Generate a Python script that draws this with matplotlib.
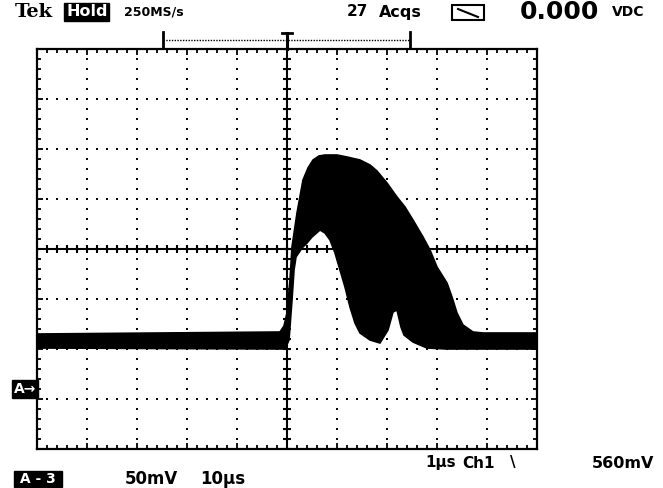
import numpy as np
import matplotlib.pyplot as plt
from matplotlib.patches import Rectangle

# Enveloppe de la trace Ch1, en divisions (x: 0..10, y: -4..4, centre = 5, 0)
upper_x = [0.00, 4.86, 4.94, 5.00, 5.06, 5.10, 5.20, 5.32, 5.42, 5.52, 5.64, 5.76,
           6.00, 6.20, 6.46, 6.66, 6.80, 7.00, 7.20, 7.36, 7.52, 7.72, 7.86, 8.00,
           8.20, 8.30, 8.40, 8.52, 8.72, 8.92, 10.00]
upper_y = [-1.70, -1.66, -1.54, -1.28, -0.62, 0.04, 0.72, 1.38, 1.62, 1.78, 1.86, 1.88,
           1.88, 1.84, 1.78, 1.68, 1.56, 1.32, 1.04, 0.84, 0.58, 0.24, -0.02, -0.36,
           -0.68, -0.96, -1.28, -1.52, -1.66, -1.68, -1.68]

lower_x = [0.00, 4.96, 5.04, 5.10, 5.14, 5.18, 5.30, 5.40, 5.50, 5.66, 5.76,
           5.86, 5.96, 6.06, 6.16, 6.26, 6.36, 6.46, 6.66, 6.86, 7.02, 7.12,
           7.20, 7.28, 7.34, 7.52, 7.80, 8.20, 10.00]
lower_y = [-1.98, -2.00, -1.82, -1.02, -0.42, -0.16, 0.02, 0.12, 0.24, 0.38, 0.32,
           0.18, -0.08, -0.42, -0.76, -1.16, -1.48, -1.68, -1.82, -1.88, -1.62, -1.26,
           -1.22, -1.56, -1.72, -1.86, -1.98, -2.00, -2.00]

fig = plt.figure(figsize=(6.63, 4.88), dpi=100)
ax = fig.add_axes([37 / 663, 39 / 488, 500 / 663, 400 / 488])
ax.set_xlim(0, 10)
ax.set_ylim(-4, 4)

# grille pointillée (points tous les 0.2 div)
for gx in [1, 2, 3, 4, 6, 7, 8, 9]:
    ys = np.arange(-4, 4.01, 0.2)
    ax.plot(np.full(len(ys), gx), ys, 's', color='black', ms=1.6, mew=0)
for gy in [-3, -2, -1, 1, 2, 3]:
    xs = np.arange(0, 10.01, 0.2)
    ax.plot(xs, np.full(len(xs), gy), 's', color='black', ms=1.6, mew=0)

# axes centraux avec graduations
ax.axvline(5, color='black', lw=1.5)
ax.axhline(0, color='black', lw=1.5)
ys = np.arange(-4, 4.01, 0.2)
ax.plot(np.full(len(ys), 5), ys, '_', color='black', ms=6, mew=1.5)
xs = np.arange(0, 10.01, 0.2)
ax.plot(xs, np.zeros(len(xs)), '|', color='black', ms=6, mew=1.5)

# trace
ax.fill(np.r_[upper_x, lower_x[::-1]], np.r_[upper_y, lower_y[::-1]],
        color='black', lw=1.2, ec='black')

# cadre
for s in ax.spines.values():
    s.set_linewidth(1.6)
ax.set_xticks(np.arange(0, 11, 1))
ax.set_yticks(np.arange(-4, 5, 1))
ax.set_xticks(np.arange(0, 10.01, 0.2), minor=True)
ax.set_yticks(np.arange(-4, 4.01, 0.2), minor=True)
ax.tick_params(which='both', direction='in', top=True, right=True,
               labelbottom=False, labelleft=False, width=1.3)
ax.tick_params(which='major', length=4)
ax.tick_params(which='minor', length=3)

# crochets de la fenêtre au-dessus
ax.plot([2.52, 7.46], [4.18, 4.18], ls=(0, (1, 1)), color='black', lw=1, clip_on=False)
for bx in [2.52, 7.46]:
    ax.plot([bx, bx], [4.02, 4.34], color='black', lw=2, clip_on=False)
ax.plot([5.0, 5.0], [4.0, 4.32], color='black', lw=2.2, clip_on=False)
ax.plot([4.9, 5.1], [4.32, 4.32], color='black', lw=2, clip_on=False)

# repère de masse
fig.text(14 / 663, 1 - 389 / 488, 'A\u2192', color='white', fontsize=10,
         fontweight='bold', va='center', ha='left',
         bbox=dict(boxstyle='square,pad=0.12', fc='black', ec='black'))

# textes du haut
fnt = dict(fontweight='bold', va='center', ha='left', color='black')
y_top = 1 - 12 / 488
fig.text(15 / 663, y_top, 'Tek', family='DejaVu Serif', fontsize=14, **fnt)
fig.text(66 / 663, y_top, 'Hold', fontsize=11.5, color='white', fontweight='bold',
         va='center', ha='left',
         bbox=dict(boxstyle='square,pad=0.1', fc='black', ec='black'))
fig.text(124 / 663, y_top, '250MS/s', fontsize=9, **fnt)
fig.text(347 / 663, y_top, '27', fontsize=11, **fnt)
fig.text(379 / 663, y_top, 'Acqs', fontsize=11.5, **fnt)
fig.patches.append(Rectangle((452 / 663, 1 - 20 / 488), 32 / 663, 15 / 488,
                             transform=fig.transFigure, fill=False, ec='black', lw=1.5))
fig.lines.append(plt.Line2D([458 / 663, 478 / 663], [1 - 9 / 488, 1 - 17 / 488],
                            transform=fig.transFigure, color='black', lw=1.5))
fig.text(520 / 663, y_top, '0.000', fontsize=18, **fnt)
fig.text(612 / 663, y_top, 'VDC', fontsize=10, **fnt)

# textes du bas
y_b1 = 1 - 463 / 488
fig.text(425 / 663, y_b1, '1\u00b5s', fontsize=11, **fnt)
fig.text(462 / 663, y_b1, 'Ch1', fontsize=11, **fnt)
fig.text(510 / 663, y_b1, '\\', fontsize=11, **fnt)
fig.text(592 / 663, y_b1, '560mV', fontsize=11.5, **fnt)
y_b2 = 1 - 479 / 488
fig.text(15 / 663, y_b2, ' A - 3 ', fontsize=10, color='white', fontweight='bold',
         va='center', ha='left',
         bbox=dict(boxstyle='square,pad=0.1', fc='black', ec='black'))
fig.text(125 / 663, y_b2, '50mV', fontsize=12, **fnt)
fig.text(200 / 663, y_b2, '10\u00b5s', fontsize=12, **fnt)

fig.savefig('out.png', dpi=100)
